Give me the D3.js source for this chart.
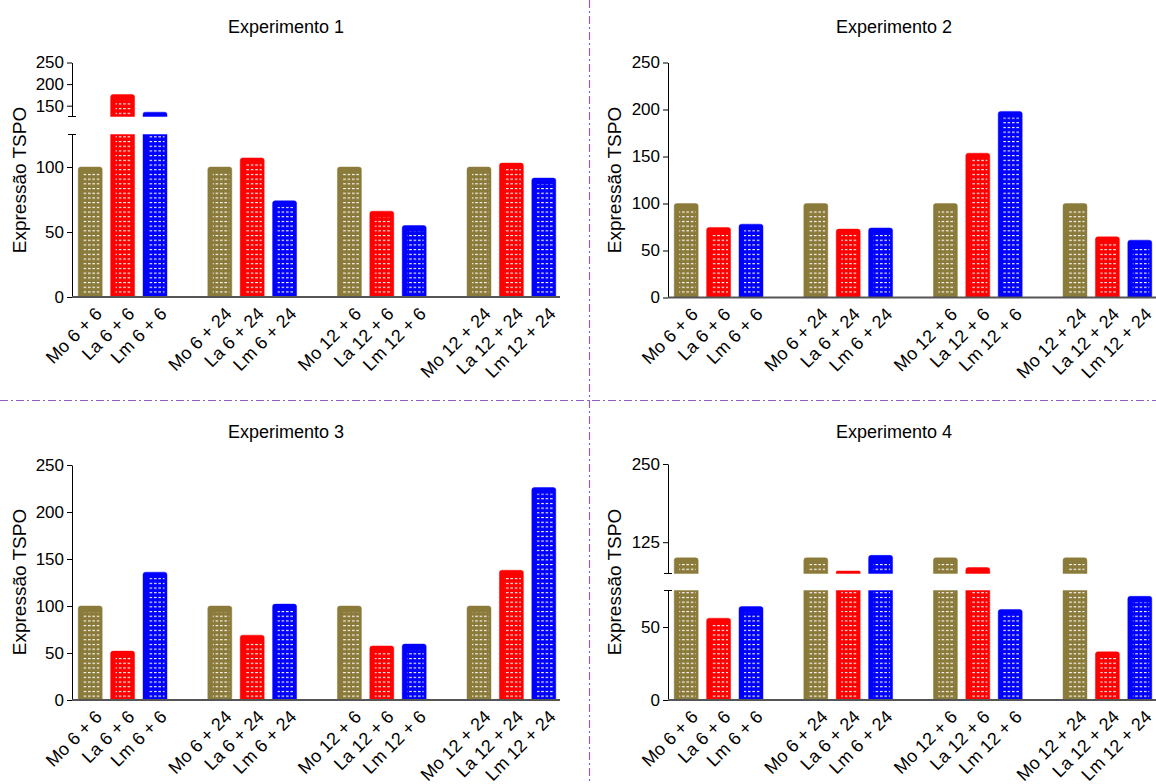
<!DOCTYPE html>
<html>
<head>
<meta charset="utf-8">
<script src="https://cdn.jsdelivr.net/npm/d3@7"></script>
<style>
  html, body { margin: 0; padding: 0; background: #fff; }
  svg { display: block; font-family: "Liberation Sans", Arial, sans-serif; }
</style>
</head>
<body>
<svg id="chart" width="1156" height="784"></svg>
<script>
// ---------------- data ----------------
const categories = ["Mo 6 + 6", "La 6 + 6", "Lm 6 + 6",
                    "Mo 6 + 24", "La 6 + 24", "Lm 6 + 24",
                    "Mo 12 + 6", "La 12 + 6", "Lm 12 + 6",
                    "Mo 12 + 24", "La 12 + 24", "Lm 12 + 24"];
const groups = ["Mo", "La", "Lm"];
const titles = ["Experimento 1", "Experimento 2", "Experimento 3", "Experimento 4"];
const yLabel = "Expressão TSPO";

const exp1 = [100, 176, 135, 100, 107, 74, 100, 66, 55, 100, 103, 91.5];
const exp2 = [100, 74.5, 78, 100, 72.8, 74, 100, 153.5, 198, 100, 64.5, 61];
const exp3 = [100, 52, 136, 100, 69, 102, 100, 57.5, 59.5, 100, 138, 226];
const exp4 = [100, 56, 64, 100, 79, 104, 100, 84.5, 62, 100, 33, 71];

const ticksFull = [0, 50, 100, 150, 200, 250];
const exp1LowerTicks = [0, 50, 100];
const exp1UpperTicks = [150, 200, 250];
const exp4LowerTicks = [0, 50];
const exp4UpperTicks = [125, 250];

// ---------------- styling ----------------
const colors = { Mo: "#8b7b3b", La: "#ff0000", Lm: "#0000ff" };
const divColor = "#9060c8";

const svg = d3.select("#chart");

// white dash pattern
const defs = svg.append("defs");
const pat = defs.append("pattern")
  .attr("id", "dots").attr("patternUnits", "userSpaceOnUse")
  .attr("width", 4.4).attr("height", 4.7);
pat.append("rect").attr("x", 0).attr("y", 0).attr("width", 2.6).attr("height", 1.1).attr("fill", "#fff");

// dividers
svg.append("line").attr("x1", 589.5).attr("x2", 589.5).attr("y1", 0).attr("y2", 784)
  .attr("stroke", divColor).attr("stroke-width", 1.2).attr("stroke-dasharray", "8,3,2,3");
svg.append("line").attr("x1", 0).attr("x2", 1156).attr("y1", 400.5).attr("y2", 400.5)
  .attr("stroke", divColor).attr("stroke-width", 1.2).attr("stroke-dasharray", "8,3,2,3");

// path for a bar with rounded top corners only
function barPath(x, y0, w, y1, rounded) {
  const r = rounded ? Math.min(2.5, (y1 - y0) / 2) : 0;
  return `M${x},${y1}V${y0 + r}Q${x},${y0} ${x + r},${y0}H${x + w - r}Q${x + w},${y0} ${x + w},${y0 + r}V${y1}Z`;
}

// panel config: segments listed bottom-first
const panels = [
  { title: titles[0], data: exp1, axisX: 72, titleX: 286, titleY: 33, labelX: 26, labelY: 180,
    segments: [ { domain: [0, 125], range: [297, 134.5], ticks: exp1LowerTicks },
                { domain: [125, 250], range: [116.5, 62.5], ticks: exp1UpperTicks } ] },
  { title: titles[1], data: exp2, axisX: 668, titleX: 894, titleY: 33, labelX: 621, labelY: 180,
    segments: [ { domain: [0, 250], range: [297.5, 62.5], ticks: ticksFull } ] },
  { title: titles[2], data: exp3, axisX: 72, titleX: 286, titleY: 438, labelX: 26, labelY: 582,
    segments: [ { domain: [0, 250], range: [700, 465], ticks: ticksFull } ] },
  { title: titles[3], data: exp4, axisX: 668, titleX: 894, titleY: 438, labelX: 621, labelY: 582,
    segments: [ { domain: [0, 75], range: [700, 590.5], ticks: exp4LowerTicks },
                { domain: [75, 250], range: [573.5, 464], ticks: exp4UpperTicks } ] }
];

// slot layout: 4 groups of 3 bars with an empty slot between groups
const slotOf = categories.map((c, i) => Math.floor(i / 3) * 4 + (i % 3));

panels.forEach(p => {
  const g = svg.append("g");
  const segs = p.segments.map(s => ({ ...s, scale: d3.scaleLinear().domain(s.domain).range(s.range) }));
  const baseY = segs[0].range[0];

  const x = d3.scaleBand().domain(d3.range(15)).range([p.axisX + 2, p.axisX + 2 + 15 * 32.4])
    .paddingInner(0.26).paddingOuter(0.13);
  const bw = x.bandwidth();

  // title
  g.append("text").attr("x", p.titleX).attr("y", p.titleY).attr("text-anchor", "middle")
    .attr("font-size", 18).attr("fill", "#000").text(p.title);

  // y label
  g.append("text").attr("transform", `translate(${p.labelX},${p.labelY}) rotate(-90)`)
    .attr("text-anchor", "middle").attr("font-size", 19).attr("fill", "#000").text(yLabel);

  // bars
  p.data.forEach((v, i) => {
    const cat = categories[i];
    const col = colors[groups[i % 3]];
    const bx = x(slotOf[i]);
    segs.forEach((s, si) => {
      const lo = s.domain[0], hi = s.domain[1];
      if (v <= lo) return;
      const top = Math.min(v, hi);
      const yTop = s.scale(top), yBot = s.scale(lo);
      const isTop = v <= hi;
      g.append("path").attr("d", barPath(bx, yTop, bw, yBot, isTop))
        .attr("fill", col).attr("stroke", col).attr("stroke-opacity", 0.45).attr("stroke-width", 1);
      const oy0 = yTop + (isTop ? 6 : 1.5), oy1 = yBot - (si === 0 ? 1.5 : 1);
      if (oy1 - oy0 > 1.5) {
        g.append("rect").attr("x", bx + 5).attr("y", oy0).attr("width", bw - 7.5)
          .attr("height", oy1 - oy0).attr("fill", "url(#dots)");
      }
    });
    // x label
    const cx = bx + bw / 2;
    g.append("text").attr("transform", `translate(${cx + 4},${baseY + 9}) rotate(-45)`)
      .attr("text-anchor", "end").attr("dy", "0.7em").attr("font-size", 18).attr("fill", "#000").text(cat);
  });

  // y axis segments
  segs.forEach((s, si) => {
    const axis = d3.axisLeft(s.scale).tickValues(s.ticks).tickSize(5).tickSizeOuter(0);
    const ag = g.append("g").attr("transform", `translate(${p.axisX},0)`).call(axis);
    ag.select(".domain").attr("stroke", "#000");
    ag.selectAll(".tick line").attr("stroke", "#000");
    ag.selectAll(".tick text").attr("font-size", 17).attr("fill", "#000")
      .attr("font-family", "Liberation Sans, Arial, sans-serif");
    // break marks
    if (segs.length > 1) {
      if (si === 0) {
        ag.append("line").attr("x1", -4).attr("x2", 4).attr("y1", s.range[1]).attr("y2", s.range[1]).attr("stroke", "#000");
      } else {
        ag.append("line").attr("x1", -4).attr("x2", 4).attr("y1", s.range[0]).attr("y2", s.range[0]).attr("stroke", "#000");
      }
    }
  });

  // x axis line
  g.append("line").attr("x1", p.axisX).attr("x2", x.range()[1]).attr("y1", baseY).attr("y2", baseY)
    .attr("stroke", "#555").attr("stroke-width", 2);
});
</script>
</body>
</html>
